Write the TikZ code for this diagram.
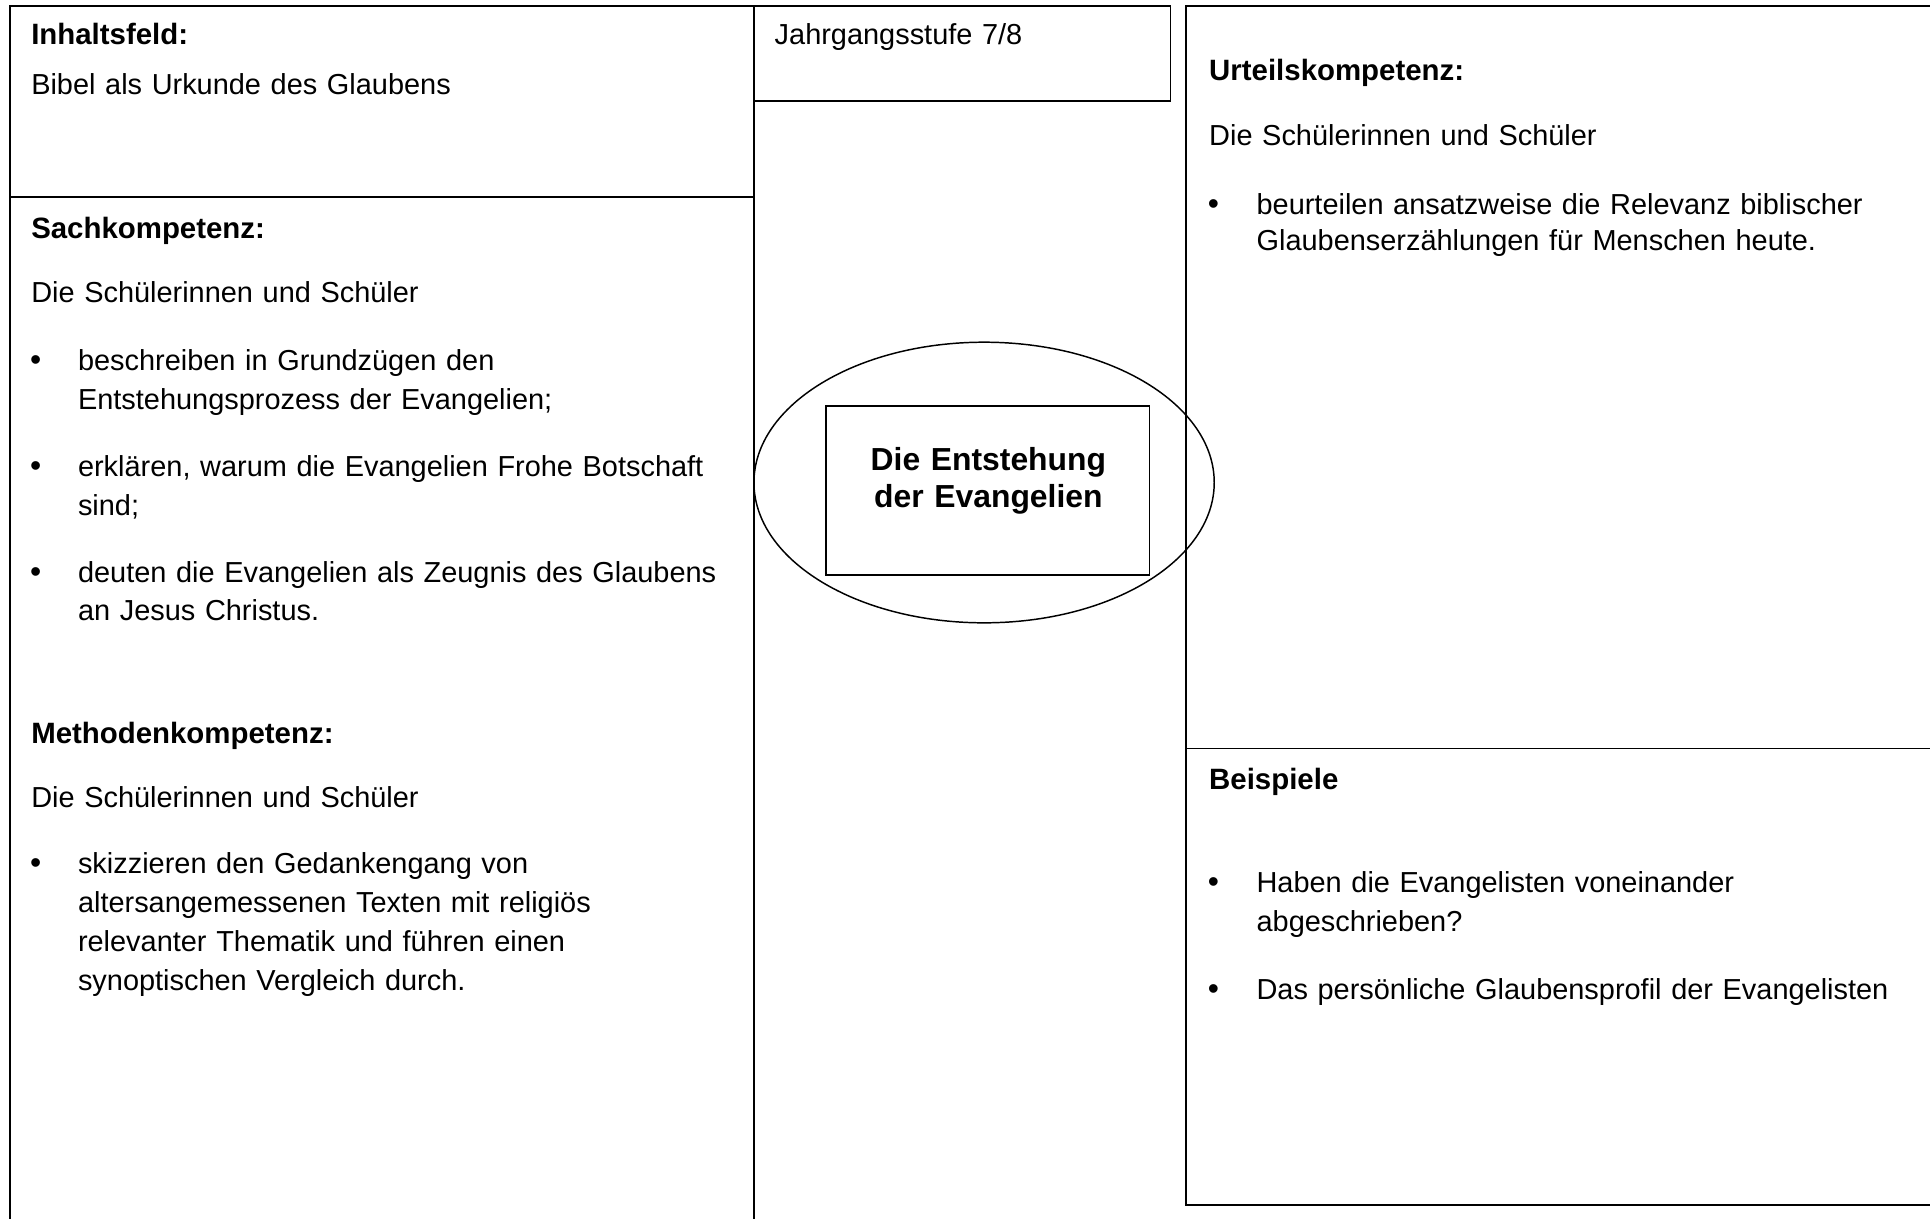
\documentclass[tikz,border=0pt]{standalone}
\usepackage{fontspec}
\setmainfont{Liberation Sans}
\usepackage{tikz}

\begin{document}
\begin{tikzpicture}[x=0.5022pt, y=-0.5022pt,
    txt/.style={anchor=base west, inner sep=0pt, text width=300pt, align=left, font=\fontsize{11.8}{15.8}\selectfont},
    head/.style={txt, font=\fontsize{12}{15.8}\selectfont\bfseries},
    bul/.style={anchor=base west, inner sep=0pt, font=\fontsize{13}{15.8}\selectfont},
    frame/.style={line width=0.6pt}]
  \useasboundingbox (0,0) rectangle (1568,990);

  % frames
  \draw[frame] (8,990) -- (8,5) -- (612.5,5) -- (612.5,990);
  \draw[frame] (8,160) -- (612.5,160);
  \draw[frame] (612.5,5) rectangle (951,82);
  \draw[frame] (1568,5) -- (963.5,5) -- (963.5,979) -- (1568,979);
  \draw[frame] (963.5,608) -- (1568,608);

  % centre
  \draw[frame] (799.5,392) ellipse [x radius=93.9pt, y radius=57.25pt];
  \draw[frame] (671,330) rectangle (934,467);
  \node (thema) [anchor=base, inner sep=0pt, text width=130pt, align=center, font=\fontsize{13}{15.4}\selectfont\bfseries] at (803,382) {Die Entstehung\\der Evangelien};
  \node (stufe) [txt] at (629,36) {Jahrgangsstufe 7/8};

  % left column
  \node (inhalt) [head] at (25,36) {Inhaltsfeld:};
  \node (bibel) [txt] at (25,77) {Bibel als Urkunde des Glaubens};
  \node (sach) [head] at (25,194) {Sachkompetenz:};
  \node (sachsus) [txt] at (25,246) {Die Schülerinnen und Schüler};
  \node (sachb1) [bul] at (24,301) {•};
  \node (sach1) [txt] at (63,301) {beschreiben in Grundzügen den\\Entstehungsprozess der Evangelien;};
  \node (sachb2) [bul] at (24,387) {•};
  \node (sach2) [txt] at (63,387) {erklären, warum die Evangelien Frohe Botschaft\\sind;};
  \node (sachb3) [bul] at (24,473) {•};
  \node (sach3) [txt] at (63,473) {deuten die Evangelien als Zeugnis des Glaubens\\an Jesus Christus.};
  \node (methode) [head] at (25,604) {Methodenkompetenz:};
  \node (methsus) [txt] at (25,656) {Die Schülerinnen und Schüler};
  \node (methb1) [bul] at (24,710) {•};
  \node (meth1) [txt] at (63,710) {skizzieren den Gedankengang von\\altersangemessenen Texten mit religiös\\relevanter Thematik und führen einen\\synoptischen Vergleich durch.};

  % right column
  \node (urteil) [head] at (982,65) {Urteilskompetenz:};
  \node (urtsus) [txt] at (982,118) {Die Schülerinnen und Schüler};
  \node (urtb1) [bul] at (981,174) {•};
  \node (urt1) [txt, font=\fontsize{11.8}{15}\selectfont] at (1020.5,174) {beurteilen ansatzweise die Relevanz biblischer\\Glaubenserzählungen für Menschen heute.};
  \node (beisp) [head] at (982,641) {Beispiele};
  \node (beispb1) [bul] at (981,725) {•};
  \node (beisp1) [txt] at (1020.5,725) {Haben die Evangelisten voneinander\\abgeschrieben?};
  \node (beispb2) [bul] at (981,812) {•};
  \node (beisp2) [txt] at (1020.5,812) {Das persönliche Glaubensprofil der Evangelisten};
\end{tikzpicture}
\end{document}
